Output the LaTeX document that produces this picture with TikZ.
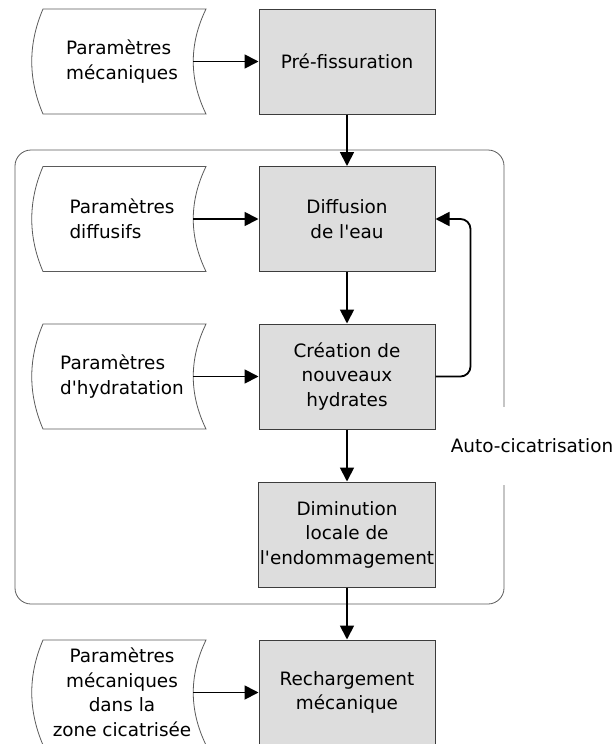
\documentclass[tikz,border=0pt]{standalone}
\usepackage{fontspec}
\setmainfont{DejaVu Sans}
\usetikzlibrary{arrows.meta,positioning}
\definecolor{BoxFill}{HTML}{DDDDDD}
\definecolor{BoxLine}{HTML}{3C3C3C}
\definecolor{Frame}{HTML}{5A5A5A}
\tikzset{
  procbox/.style={draw=BoxLine, line width=1pt, fill=BoxFill, minimum width=176pt,
    minimum height=105pt, align=center, inner sep=1pt},
  flow/.style={black, line width=1.8pt, -{Triangle[length=14pt,width=14pt]}},
}
% data input: name, top, alignment, text
\newcommand{\param}[4]{
  \begin{scope}[shift={(0,#2)}]
    \draw[Frame, line width=0.8pt] (43,0) .. controls (28,35) and (28,70) .. (43,105)
      -- (206,105) .. controls (189,70) and (189,35) .. (206,0) -- cycle;
    \node[align=#3] (#1) at (122,52.5) {#4};
    \coordinate (#1-out) at (193,52.5);
  \end{scope}
}

\begin{document}
\begin{tikzpicture}[x=1pt, y=-1pt, font=\fontsize{18.4}{24.5}\selectfont]
    \useasboundingbox (0,0) rectangle (614,744);
    \draw[Frame, line width=0.8pt, rounded corners=16pt] (15,150) rectangle (504,604);
    \node[fill=white, minimum height=78pt, inner sep=0pt] (auto) at (532,446) {Auto-cicatrisation};

    \param{pmeca}{9}{left}{Paramètres\\mécaniques}
    \param{pdiff}{166.5}{left}{Paramètres\\diffusifs}
    \param{phydr}{324}{left}{Paramètres\\d\textquotesingle hydratation}
    \param{pzone}{640}{center}{Paramètres\\mécaniques\\dans la\\zone cicatrisée}

    \node[procbox] (prefiss) at (347,61.5) {Pré-fissuration};
    \node[procbox] (diffus) at (347,219) {Diffusion\\de l\textquotesingle eau};
    \node[procbox] (creat) at (347,376.5) {Création de\\nouveaux\\hydrates};
    \node[procbox] (dimin) at (347,534.5) {Diminution\\locale de\\l\textquotesingle endommagement};
    \node[procbox] (recharg) at (347,692.5) {Rechargement\\mécanique};

    \draw[flow] (pmeca-out) -- (prefiss);
    \draw[flow] (pdiff-out) -- (diffus);
    \draw[flow] (phydr-out) -- (creat);
    \draw[flow] (pzone-out) -- (recharg);
    \draw[flow] (prefiss) -- (diffus);
    \draw[flow] (diffus) -- (creat);
    \draw[flow] (creat) -- (dimin);
    \draw[flow] (dimin) -- (recharg);
    \draw[flow, rounded corners=10pt] (creat.east) -- ++(35,0) |- (diffus.east);
  \end{tikzpicture}
\end{document}
